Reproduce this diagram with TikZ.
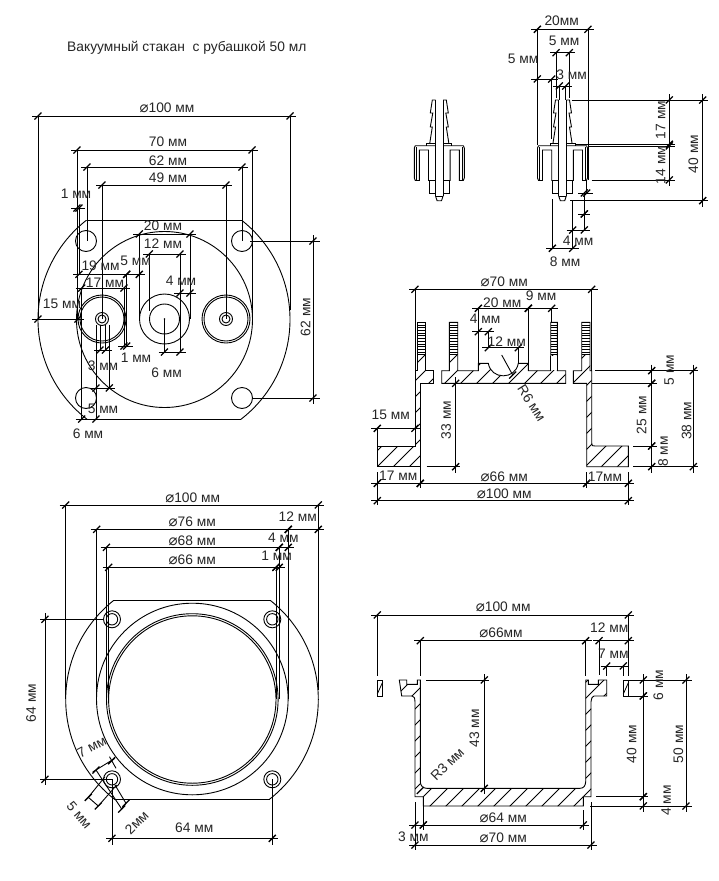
\documentclass[tikz,border=0pt]{standalone}
\usepackage{fontspec}
\setmainfont{Liberation Sans}
\newfontfamily\symf{DejaVu Sans}
\newcommand\dia{{\symf\fontsize{15}{15}\selectfont ⌀}}
\newcounter{lblc}
\tikzset{
  part/.style={draw=black,line width=0.9pt,line join=miter},
  dimline/.style={draw=black,line width=0.9pt},
  tickmark/.style={draw=black,line width=1.3pt},
  hatchline/.style={draw=black,line width=0.8pt},
  lbl/.style={font=\fontsize{13.8}{13.8}\selectfont,inner sep=0pt,text=black!85},
}
\newcommand\tk[2]{\draw[tickmark] ({#1-3.5},{#2+3.5})--({#1+3.5},{#2-3.5});}
\newcommand\hd[3]{\draw[dimline] ({#1-6},#3)--({#2+6},#3);\tk{#1}{#3}\tk{#2}{#3}}
\newcommand\vd[3]{\draw[dimline] (#3,{#1-6})--(#3,{#2+6});\tk{#3}{#1}\tk{#3}{#2}}
\newcommand\ext[4]{\draw[dimline] (#1,#2)--(#3,#4);}
\newcommand\lab[3]{\stepcounter{lblc}\node[lbl] (t\arabic{lblc}) at (#1,#2) {#3};}
\newcommand\rlab[4]{\stepcounter{lblc}\node[lbl,rotate=#3] (t\arabic{lblc}) at (#1,#2) {#4};}
\newcommand\hatchlines[3]{\foreach \c in {#1,#2,...,#3} \draw[hatchline] ({\c-250},250)--({\c-1000},1000);}
\newcommand\halffit{%
  \draw[part] (-3.8,100)--(-3.8,196);
  \draw[part] (-3.8,100)--(-7,100)--(-9,113)--(-6.5,113)--(-9,127)--(-7,127)--(-9.5,143);
  \draw[part] (-12.5,145.7)--(-12.5,143.3)--(-3.8,143.3);
  \draw[part] (-3.8,145.7)--(-24,145.7)--(-25,148)--(-25,178)--(-24,180.5)--(-20,180.5)--(-20,150)--(-10.8,150)--(-10.8,180.5)--(-3.8,180.5);
  \draw[part] (-23,147)--(-23,180);
  \draw[part] (-10,180.5)--(-10,193.5)--(-3.8,193.5);
  \draw[part] (-3.8,196)--(-2.2,200.7)--(0,200.7);
  \draw[part] (-3.8,196)--(0,196);
}
\newcommand\fitting[1]{%
  \begin{scope}[shift={(#1,0)}]\halffit\end{scope}
  \begin{scope}[shift={(#1,0)},xscale=-1]\halffit\end{scope}
}
\newcommand\combstud[2]{%
  \foreach \yy in {322.3,325,...,355.5} \draw[hatchline] (#1,\yy)--(#2,\yy);
}
\def\pcleft{(415,370.7)--(417.3,370.7)--(417.3,322.3)--(425.7,322.3)--(425.7,370.7)--(433.7,370.7)--(433.7,383.3)--(420.3,383.3)--(420.3,466.7)--(377.3,466.7)--(377.3,446)--(415,446)--cycle}
\def\pccenter{(441.7,383.3)--(441.7,370.7)--(449.3,370.7)--(449.3,322.3)--(457.7,322.3)--(457.7,370.7)--(478.3,370.7)--(478.3,363.3)--(488.3,363.3) .. controls (491,380) and (515.5,380) .. (518.3,363.3)--(528.3,363.3)--(528.3,370.7)--(550.7,370.7)--(550.7,322.3)--(557.3,322.3)--(557.3,370.7)--(565.7,370.7)--(565.7,383.3)--cycle}
\def\pcright{(573.3,383.3)--(573.3,370.7)--(581.7,370.7)--(581.7,322.3)--(590,322.3)--(590,370.7)--(591.7,370.7)--(591.7,443) .. controls (592,446) .. (595,446)--(628.3,446)--(628.3,466.7)--(586.7,466.7)--(586.7,383.3)--cycle}
\def\pecup{(399.3,680)--(406.7,680)--(406.7,684.3)--(417.3,684.3)--(417.3,680)--(420.3,680)--(420.3,781.7) .. controls (420.5,786) and (423,788.3) .. (426.7,788.3)--(580,788.3) .. controls (583.5,788.3) and (585.5,786) .. (585.7,781.7)--(585.7,680)--(588.3,680)--(588.3,684.3)--(598.3,684.3)--(598.3,680)--(606.7,680)--(606.7,696)--(594,696) .. controls (592,697) .. (591,701.7)--(591,796.7)--(583.3,796.7)--(583.3,806)--(423.3,806)--(423.3,796.7)--(415,796.7)--(415,701.7) .. controls (414.5,697) .. (412,696)--(401.7,696)--cycle}
\begin{document}
\begin{tikzpicture}[x=1pt,y=-1pt]
\useasboundingbox (0,0) rectangle (718,881);
\fill[white] (0,0) rectangle (718,881);

\stepcounter{lblc}
\node[lbl,anchor=west] (title) at (67,48) {Вакуумный стакан\ \ с рубашкой 50 мл};

% ---------- view A: lid from above
\begin{scope}\clip (0,220) rectangle (718,419);
  \draw[part] (164,319.5) circle[radius=126];
\end{scope}
\draw[part] (87,220)--(242,220);
\draw[part] (87.5,419)--(241,419);
\draw[part] (164.5,319.5) circle[radius=88];
\foreach \px/\py in {86/241,242/241,86/398,242/398} \draw[part] (\px,\py) circle[radius=10.5];
\foreach \px in {102,226}{
  \draw[part] (\px,319) circle[radius=24];
  \draw[part] (\px,319) circle[radius=22];
  \draw[part] (\px,319) circle[radius=6.5];
  \draw[part] (\px,319) circle[radius=4];
}
\draw[part] (164.5,319) circle[radius=25];
\draw[part] (164.5,319) circle[radius=15];
\fill (164.5,319) circle[radius=0.8];

\hd{38}{290}{116}\ext{38}{116}{38}{319}\ext{290}{116}{290}{310}
\hd{77}{252}{150}\ext{77}{150}{77}{319}\ext{252}{150}{252}{319}
\hd{87}{242}{167}\ext{87}{167}{87}{241}\ext{242}{167}{242}{241}
\hd{102}{226}{185}\ext{102}{185}{102}{319}\ext{226}{185}{226}{319}
\hd{77}{79}{208}
\ext{79}{208}{79}{274}
\hd{79}{126.7}{274.3}\hd{126.7}{139.3}{274.3}
\hd{139.3}{190}{234}\ext{139.3}{234}{139.3}{319}\ext{190}{234}{190}{319}
\hd{149.3}{180}{254}\ext{149.3}{254}{149.3}{311}\ext{180}{254}{180}{352}
\hd{180}{190}{293}
\hd{164.5}{180}{352}\ext{164.5}{319}{164.5}{352}
\hd{81.7}{124}{288}\ext{81.7}{288}{81.7}{419}\ext{124}{288}{124}{346}
\ext{126.7}{274.3}{126.7}{346}
\hd{124}{126.7}{346}
\hd{100}{105.5}{350}\ext{100}{325}{100}{350}\ext{105.5}{325}{105.5}{350}
\hd{96}{109.3}{388}\ext{96}{325}{96}{419}\ext{109.3}{325}{109.3}{388}
\hd{38}{78}{319}
\hd{81.7}{96}{419}
\vd{241}{398}{313}\ext{250}{241}{320}{241}\ext{252}{398}{320}{398}

\lab{167}{108}{\dia 100 мм}
\lab{168}{142}{70 мм}
\lab{168}{161}{62 мм}
\lab{168}{178}{49 мм}
\lab{76}{194}{1 мм}
\lab{100.6}{266}{19 мм}
\lab{135.7}{261}{5 мм}
\lab{163}{226}{20 мм}
\lab{163}{244}{12 мм}
\lab{181}{281}{4 мм}
\lab{105}{283}{17 мм}
\lab{62}{304}{15 мм}
\lab{136}{358}{1 мм}
\lab{103}{366}{3 мм}
\lab{166.7}{373}{6 мм}
\lab{103}{409}{5 мм}
\lab{88}{434}{6 мм}
\rlab{305.7}{317}{90}{62 мм}

% ---------- view B: fittings
\fitting{439.3}
\fitting{562.5}
\hd{537.3}{588}{29.3}\ext{537.3}{29.3}{537.3}{145}\ext{588}{29.3}{588}{180}
\hd{556}{569.3}{52.7}\ext{556}{52.7}{556}{98}\ext{569.3}{52.7}{569.3}{98}
\hd{537.3}{551.7}{79}\ext{551.7}{79}{551.7}{139}
\hd{559.3}{565.7}{86}\ext{559.3}{86}{559.3}{100}\ext{565.7}{86}{565.7}{100}
\vd{100}{144.3}{669.3}\vd{146}{180}{669.3}
\vd{100}{200.7}{702.7}
\ext{571.7}{100}{708}{100}\ext{576}{144.3}{675}{144.3}\ext{588}{146}{675}{146}
\ext{591.7}{180}{675}{180}\ext{570}{200.7}{708}{200.7}
\hd{572.7}{584.3}{230}
\hd{552.3}{572.7}{248.3}
\ext{552.3}{199}{552.3}{248.3}\ext{572.7}{200.7}{572.7}{248.3}
\ext{584.3}{193}{584.3}{230}\ext{586.7}{180}{586.7}{193}
\hd{584.3}{586.7}{193}
\hd{584.3}{584.3}{214}
\lab{561.7}{21}{20мм}
\lab{564}{40.7}{5 мм}
\lab{523}{59}{5 мм}
\lab{571.7}{75}{3 мм}
\rlab{660.7}{120}{90}{17 мм}
\rlab{660.7}{165}{90}{14 мм}
\rlab{693.3}{154}{90}{40 мм}
\lab{578}{241}{4 мм}
\lab{565}{261.7}{8 мм}

% ---------- view C: lid section
\foreach \sec in {\pcleft,\pccenter,\pcright}{
  \begin{scope}
    \clip (300,355) rectangle (700,900);
    \clip \sec;
    \hatchlines{700}{716}{1150}
  \end{scope}
  \draw[part] \sec;
}
\fill[white] (551.2,356) rectangle (556.8,370);
\draw[part] (550.7,356)--(550.7,370.7) (557.3,356)--(557.3,370.7);
\combstud{417.3}{425.7}\combstud{449.3}{457.7}\combstud{550.7}{557.3}\combstud{581.7}{590}
\ext{415}{289.3}{415}{370.7}\ext{591.7}{289.3}{591.7}{370.7}
\hd{415}{591.7}{289.3}
\hd{478.3}{528.3}{308.3}\hd{528.3}{551.7}{308.3}
\ext{478.3}{308.3}{478.3}{363.3}\ext{528.3}{308.3}{528.3}{363.3}\ext{551.7}{308.3}{551.7}{322.3}
\hd{478.3}{488.3}{331.7}\ext{488.3}{331.7}{488.3}{347.7}
\hd{488.3}{518.3}{347.7}\ext{518.3}{347.7}{518.3}{363.3}
\draw[dimline] (501.7,355)--(512.7,375);\tk{512.7}{375}
\vd{383.3}{466.7}{455.7}\ext{426.7}{466.7}{460}{466.7}
\hd{377.3}{415}{428.3}\ext{377.3}{428.3}{377.3}{446}
\hd{377.3}{420.3}{483.3}\hd{420.3}{586.7}{483.3}\hd{586.7}{628.3}{483.3}
\hd{377.3}{628.3}{500.7}
\ext{377.3}{472}{377.3}{505}\ext{420.3}{467}{420.3}{488}\ext{586.7}{472}{586.7}{488}\ext{628.3}{472}{628.3}{505}
\vd{370.7}{383.3}{651.7}\vd{383.3}{446}{651.7}\vd{446}{466.7}{651.7}
\vd{370.7}{466.7}{693.3}
\ext{595}{370.7}{698}{370.7}\ext{591.7}{383.3}{656.7}{383.3}\ext{633}{446}{656.7}{446}\ext{633}{466.7}{698}{466.7}
\lab{504.3}{281.7}{\dia 70 мм}
\lab{502.3}{302.3}{20 мм}
\lab{541}{295.7}{9 мм}
\lab{485}{318.3}{4 мм}
\lab{506.7}{341.7}{12 мм}
\rlab{531.7}{403.3}{-58}{R6 мм}
\rlab{446}{420}{90}{33 мм}
\lab{390.7}{415}{15 мм}
\lab{398.3}{476}{17 мм}
\lab{504.3}{476.7}{\dia 66 мм}
\lab{605}{476.7}{17мм}
\lab{504.3}{494}{\dia 100 мм}
\rlab{669.3}{370}{90}{5 мм}
\rlab{641.7}{415}{90}{25 мм}
\rlab{663}{451.7}{90}{8 мм}
\rlab{686.7}{420.7}{90}{38 мм}

% ---------- view D: cup from above
\begin{scope}\clip (0,600) rectangle (718,799.3);
  \draw[part] (192,699.5) circle[radius=126.3];
\end{scope}
\draw[part] (114.3,600)--(270,600);
\draw[part] (114.5,799.3)--(269.5,799.3);
\draw[part] (192.3,699) circle[radius=95.8];
\draw[part] (192.3,699.5) circle[radius=85.8];
\draw[part] (192.3,699.5) circle[radius=83.7];
\foreach \px/\py in {112/619.3,272.3/619.3,112/779.3,272.3/779.3}{
  \draw[part] (\px,\py) circle[radius=8.5];
  \draw[part] (\px,\py) circle[radius=5.7];
}
\hd{65.7}{318.3}{505}\ext{65.7}{505}{65.7}{699}\ext{318.3}{505}{318.3}{690}
\hd{96.7}{288.3}{529.3}\ext{96.7}{529.3}{96.7}{699}\ext{288.3}{529.3}{288.3}{699}
\hd{288.3}{318.3}{529.3}
\hd{106.5}{279.3}{547.3}\ext{106.5}{547.3}{106.5}{699}\ext{279.3}{547.3}{279.3}{699}
\hd{279.3}{288.3}{547.3}
\hd{108.7}{276}{567.3}\ext{108.7}{567.3}{108.7}{699}\ext{276}{567.3}{276}{699}
\hd{276}{279.3}{567.3}
\vd{619.3}{779.3}{45}\ext{40}{619.3}{103}{619.3}\ext{40}{779.3}{112}{779.3}
\hd{112}{272.3}{838.3}\ext{112}{779.3}{112}{845}\ext{272.3}{779.3}{272.3}{845}
\draw[dimline] (92.7,772)--(115,758.3);
\tk{96}{770}\tk{111.7}{760.7}
\draw[dimline] (96,770)--(121.7,809);
\draw[dimline] (109.5,756.7)--(116,768.3);
\draw[dimline] (115,785)--(126,803.3);
\draw[dimline] (88.3,797.3)--(98.3,806);
\tk{88.3}{797.3}\tk{98.3}{806}
\draw[dimline] (88.3,797.3)--(105,776.7);
\draw[dimline] (98.3,806)--(116.7,785);
\draw[dimline] (121.7,809)--(126,803.3);
\tk{121.7}{809}\tk{126}{803.3}
\lab{192.7}{498.3}{\dia 100 мм}
\lab{192.3}{522.3}{\dia 76 мм}
\lab{192.3}{541}{\dia 68 мм}
\lab{192.3}{560}{\dia 66 мм}
\lab{297.7}{516.7}{12 мм}
\lab{283.3}{537.3}{4 мм}
\lab{276.7}{556}{1 мм}
\rlab{31}{703}{90}{64 мм}
\lab{194.3}{827.7}{64 мм}
\rlab{91.7}{746.7}{28}{7 мм}
\rlab{79.3}{815}{-50}{5 мм}
\rlab{136.7}{822.3}{45}{2мм}

% ---------- view E: cup section
\begin{scope}
  \clip \pecup;
  \hatchlines{1060}{1076}{1500}
\end{scope}
\draw[part] \pecup;
\draw[part] (377.3,680) rectangle (382.7,696);
\draw[hatchline] (377.3,694)--(382.7,682);
\draw[part] (623.3,680) rectangle (628.7,696);
\draw[hatchline] (623.3,694)--(628.7,682);
\hd{377.3}{628.3}{615}\ext{377.3}{615}{377.3}{676}\ext{628.3}{615}{628.3}{676}
\hd{420.3}{585.7}{640.7}\ext{420.3}{640.7}{420.3}{676}\ext{585.7}{640.7}{585.7}{676}
\hd{599}{628.3}{640.7}\ext{599}{640.7}{599}{675}
\hd{606.7}{623.3}{666}\ext{606.7}{666}{606.7}{676}\ext{623.3}{666}{623.3}{676}
\vd{680}{696}{643.3}\vd{696}{796.7}{643.3}\vd{796.7}{806}{643.3}
\vd{680}{806}{686}
\ext{629}{680}{691.7}{680}\ext{629}{696}{648}{696}\ext{596}{796.7}{648}{796.7}\ext{590}{806}{691.7}{806}
\vd{680}{788.3}{484.3}\ext{426}{680}{489}{680}
\tk{420.3}{790.5}
\hd{415}{423.3}{825}\hd{423.3}{583.3}{825}
\hd{415}{591}{845}
\ext{415}{802}{415}{850}\ext{423.3}{806}{423.3}{830}\ext{583.3}{810}{583.3}{830}\ext{591}{802}{591}{850}
\lab{503.3}{607.3}{\dia 100 мм}
\lab{501}{632.7}{\dia 66мм}
\lab{609.3}{627.3}{12 мм}
\lab{613.3}{653.3}{7 мм}
\rlab{658.3}{685}{90}{6 мм}
\rlab{631.7}{744}{90}{40 мм}
\rlab{666}{800.7}{90}{4 мм}
\rlab{678.3}{744}{90}{50 мм}
\rlab{474.3}{728.3}{90}{43 мм}
\rlab{447.3}{764.3}{45}{R3 мм}
\lab{503.3}{817.7}{\dia 64 мм}
\lab{413.3}{836.7}{3 мм}
\lab{503.3}{838.3}{\dia 70 мм}
\end{tikzpicture}
\end{document}
